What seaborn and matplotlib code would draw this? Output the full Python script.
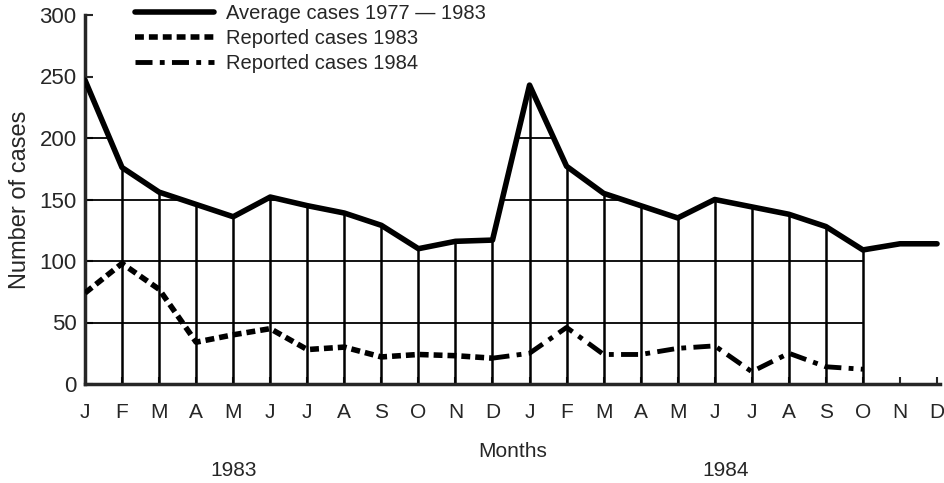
import numpy as np
import pandas as pd
import seaborn as sns
import matplotlib.pyplot as plt
from matplotlib.patches import Polygon

months = ['J', 'F', 'M', 'A', 'M', 'J', 'J', 'A', 'S', 'O', 'N', 'D']
month_labels = months + months

# average cases 1977-1983, drawn over both years
average_cases = [247, 176, 156, 146, 136, 152, 145, 139, 129, 110, 116, 117,
                 243, 177, 155, 145, 135, 150, 144, 138, 128, 109, 114, 114]
reported_1983 = [74, 98, 77, 34, 40, 45, 28, 30, 22, 24, 23, 21]
reported_1984 = [25, 46, 24, 24, 29, 31, 10, 25, 14, 12]

sns.set_style('ticks')
plt.rcParams['font.family'] = ['Liberation Sans', 'DejaVu Sans']
plt.rcParams['font.size'] = 14

fig = plt.figure(figsize=(9.45, 4.83), dpi=100)
ax = fig.add_axes([85 / 945, 1 - 384 / 483, (940 - 85) / 945, 369 / 483])

x_all = np.arange(len(average_cases))
avg_df = pd.DataFrame({'month': x_all, 'cases': average_cases})
r83_df = pd.DataFrame({'month': np.arange(12), 'cases': reported_1983})
# 1984 line starts from the last 1983 point
r84_df = pd.DataFrame({'month': np.arange(11, 12 + len(reported_1984)),
                       'cases': [reported_1983[-1]] + reported_1984})

# grid only underneath the average curve, up to October 1984
last = 12 + len(reported_1984) - 1
ax.vlines(x_all[1:last + 1], 0, average_cases[1:last + 1], color='black', lw=1.8, zorder=1)
poly_pts = [(0, 0)] + list(zip(x_all[:last + 1], average_cases[:last + 1])) + [(last, 0)]
clip = Polygon(poly_pts, closed=True, transform=ax.transData, facecolor='none', edgecolor='none')
ax.add_patch(clip)
hl = ax.hlines([50, 100, 150, 200], 0, last, color='black', lw=1.3, zorder=1)
hl.set_clip_path(clip)

sns.lineplot(data=avg_df, x='month', y='cases', ax=ax, color='black', lw=4,
             label='Average cases 1977 \u2014 1983', zorder=3)
sns.lineplot(data=r83_df, x='month', y='cases', ax=ax, color='black', lw=4,
             label='Reported cases 1983', zorder=3)
sns.lineplot(data=r84_df, x='month', y='cases', ax=ax, color='black', lw=3.5,
             label='Reported cases 1984', zorder=3)
lines = ax.get_lines()
lines[1].set_dashes([1.6, 0.9])
lines[2].set_dashes([3.5, 1.5, 1.0, 1.5])

ax.set_xlim(0, 23.08)
ax.set_ylim(0, 300)
ax.set_xticks(x_all)
ax.set_xticklabels(month_labels)
ax.set_yticks(range(0, 301, 50))
ax.tick_params(axis='y', direction='in', length=6, width=1.5, pad=6, labelsize=16)
ax.tick_params(axis='x', direction='in', length=5, width=1.5, pad=14, labelsize=15)
sns.despine(ax=ax)
ax.spines['left'].set_linewidth(2.5)
ax.spines['bottom'].set_linewidth(2.5)

ax.set_xlabel('Months', fontsize=15, labelpad=14)
ax.set_ylabel('Number of cases', fontsize=17, labelpad=6)
ax.text(4.0, -0.235, '1983', transform=ax.get_xaxis_transform(), ha='center', va='center', fontsize=15)
ax.text(17.3, -0.235, '1984', transform=ax.get_xaxis_transform(), ha='center', va='center', fontsize=15)

ax.legend(loc='upper left', bbox_to_anchor=(135 / 945, 1 - 4 / 483), bbox_transform=fig.transFigure,
          frameon=False, handlelength=3.9, handletextpad=0.6, labelspacing=0.3,
          borderpad=0, borderaxespad=0, fontsize=14.5)

fig.savefig('out.png', dpi=100)
